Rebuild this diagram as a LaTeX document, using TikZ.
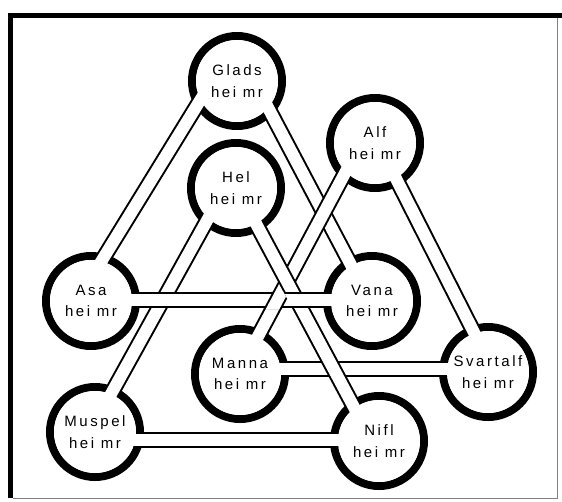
\documentclass[tikz,border=0pt]{standalone}
\usepackage{fontspec}
\setmainfont{Liberation Sans}[LetterSpace=17]
\usetikzlibrary{calc}
\begin{document}
\begin{tikzpicture}[x=1pt,y=-1pt,
  ring/.style={line width=8pt, draw=black, fill=white},
  band/.style={line width=2pt, draw=black, double=white, double distance=12pt},
  world/.style={circle, fill=white, minimum size=82pt, inner sep=0pt, align=center,
    font=\fontsize{15}{21.5}\selectfont},
]
\useasboundingbox (0,0) rectangle (562,501);
% centres of the nine worlds
\coordinate (gla) at (237,81);
\coordinate (hel) at (236,188);
\coordinate (alf) at (375,143);
\coordinate (asa) at (91,301);
\coordinate (van) at (372,301);
\coordinate (man) at (240,374);
\coordinate (sva) at (488,372);
\coordinate (mus) at (95,432);
\coordinate (nif) at (379,441);
% frame
\fill[black] (8,13) rectangle (562,17.5);
\fill[black] (8,13) rectangle (13,498);
\draw[gray, line width=1pt] (557,17.5) -- (557,498.5) -- (13,498.5);
% rings
\foreach \c in {gla,hel,alf,asa,van,man,sva,mus,nif}
  \draw[ring] (\c) circle[radius=45];
% bands (drawing order gives the weave)
\draw[band] ($(hel)+(-11,0)$) -- ($(mus)+(-5,0)$);   % Hel - Muspel
\draw[band] ($(gla)+(17,0)$) -- ($(van)+(-2,0)$);    % Glads - Vana
\draw[band] ($(gla)+(-25,0)$) -- ($(asa)+(-14,0)$);  % Glads - Asa
\draw[band] ($(mus)+(0,8)$) -- ($(nif)+(0,-1)$);     % Muspel - Nifl
\draw[band] ($(alf)+(3,0)$) -- ($(sva)+(6,0)$);      % Alf - Svartalf
\draw[band] ($(man)+(0,-5)$) -- ($(sva)+(0,-3)$);    % Manna - Svartalf
\draw[band] ($(alf)+(-14,0)$) -- ($(man)+(-2,0)$);   % Alf - Manna
\draw[band] ($(hel)+(1,0)$) -- ($(nif)+(-7,0)$);     % Hel - Nifl
\draw[band] ($(asa)+(0,-1)$) -- ($(van)+(0,-1)$);    % Asa - Vana
\begin{scope}
  \clip (250,291) -- (282.9,291) -- (292.5,309) -- (250,309) -- cycle;
  \draw[band] ($(alf)+(-14,0)$) -- ($(man)+(-2,0)$); % Alf - Manna over Asa - Vana
\end{scope}
% world labels
\node[world] (glaN) at (gla) {Glads\\hei mr};
\node[world] (helN) at (hel) {Hel\\hei mr};
\node[world] (alfN) at (alf) {Alf\\hei mr};
\node[world] (asaN) at (asa) {Asa\\hei mr};
\node[world] (vanN) at (van) {Vana\\hei mr};
\node[world] (manN) at (man) {Manna\\hei mr};
\node[world] (svaN) at (sva) {Svartalf\\hei mr};
\node[world] (musN) at (mus) {Muspel\\hei mr};
\node[world] (nifN) at (nif) {Nifl\\hei mr};
\end{tikzpicture}
\end{document}
